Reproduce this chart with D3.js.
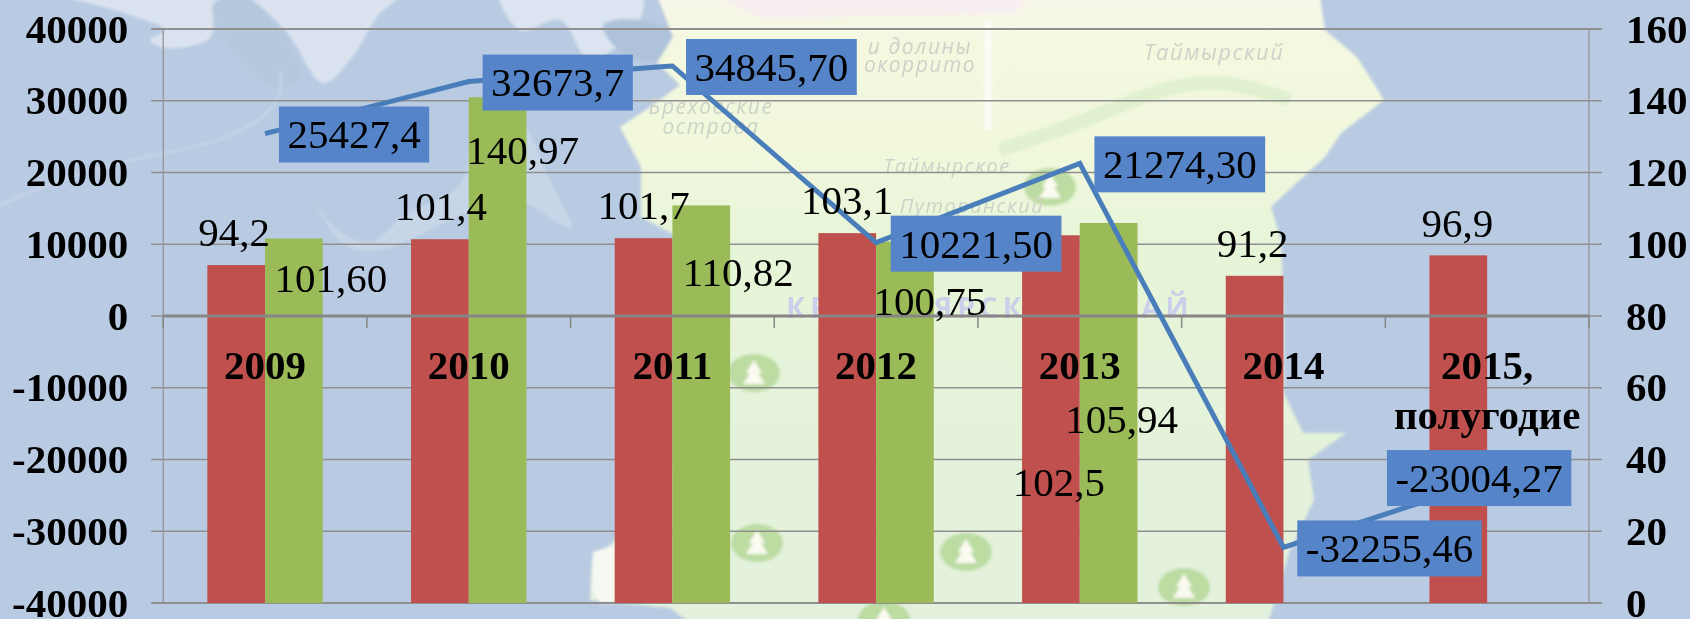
<!DOCTYPE html>
<html>
<head>
<meta charset="utf-8">
<script src="https://cdn.jsdelivr.net/npm/d3@7/dist/d3.min.js"></script>
<style>
html,body{margin:0;padding:0;background:#b9cbe2;overflow:hidden}
svg{display:block}
text{font-family:"Liberation Serif",serif;fill:#000}
</style>
</head>
<body>
<svg id="c" width="1690" height="619"></svg>
<script>
// ---- data ----
const categories = ["2009","2010","2011","2012","2013","2014","2015,\nполугодие"];
const seriesNames = ["red","green"];
const redValues   = [94.2,101.4,101.7,103.1,102.5,91.2,96.9];
const redLabels   = ["94,2","101,4","101,7","103,1","102,5","91,2","96,9"];
const greenValues = [101.60,140.97,110.82,100.75,105.94,null,null];
const greenLabels = ["101,60","140,97","110,82","100,75","105,94",null,null];
const lineValues  = [25427.4,32673.7,34845.70,10221.50,21274.30,-32255.46,-23004.27];
const lineLabels  = ["25427,4","32673,7","34845,70","10221,50","21274,30","-32255,46","-23004,27"];
const leftTicks   = [40000,30000,20000,10000,0,-10000,-20000,-30000,-40000];
const rightTicks  = [160,140,120,100,80,60,40,20,0];

// manual label placement, as in the source chart (px from the mark)
const redLabelOffset   = [[-2,-33],[1,-33],[0,-33],[0,-33],[8,247],[-2,-33],[-1,-32]];
const greenLabelOffset = [[37,40],[25,53],[37,67],[25,60],[13,196]];
const lineLabelOffset  = [[89,1],[89,1],[99,1],[100,1],[100,1],[106,1],[-8,-3]];

// ---- layout ----
const L=163.2,R=1589,T=29,B=603;
const FS=41;
const svg=d3.select("#c");
const x0=d3.scaleBand().domain(categories).range([L,R]);
const x1=d3.scaleBand().domain(seriesNames).range([0,x0.bandwidth()]).paddingInner(0).paddingOuter(0.765);
const yL=d3.scaleLinear().domain([-40000,40000]).range([B,T]);
const yR=d3.scaleLinear().domain([0,160]).range([B,T]);
const cx=c=>x0(c)+x0.bandwidth()/2;

// ---- background map (decorative) ----
const defs=svg.append("defs");
defs.append("filter").attr("id","soft").attr("x","-5%").attr("y","-5%").attr("width","110%").attr("height","110%")
  .append("feGaussianBlur").attr("stdDeviation",1.6);
const lg=defs.append("linearGradient").attr("id","land").attr("x1",0).attr("y1",0).attr("x2",0).attr("y2",1);
[[0,"#f7f7ea"],[.1,"#f3f8de"],[.26,"#f1f8dc"],[.4,"#e6f4d8"],[1,"#e3f1dc"]].forEach(s=>lg.append("stop").attr("offset",s[0]).attr("stop-color",s[1]));
svg.append("rect").attr("width",1690).attr("height",619).attr("fill","#b9cbe2");
const bg=svg.append("g").attr("filter","url(#soft)");
const poly=(pts,fill,op)=>bg.append("path").attr("d",d3.line().curve(d3.curveCatmullRomClosed.alpha(.5))(pts)).attr("fill",fill).attr("opacity",op||1);
// shelf ice and darker water
poly([[50,-10],[130,15],[165,30],[150,40],[165,48],[210,38],[215,5],[235,-8],[285,30],[323,83],[350,60],[377,17],[400,-8]],"#dae3ef");
poly([[213,5],[240,-5],[285,35],[300,80],[270,85],[225,40]],"#b5c8dc");
poly([[500,-10],[520,30],[560,20],[590,60],[640,20],[640,-10]],"#dbe4f0");
poly([[603,25],[640,20],[683,40],[665,60],[625,55]],"#aec2da");
poly([[310,195],[335,228],[370,242],[405,215],[460,185],[475,125],[490,105],[520,120],[552,185],[572,228],[530,205],[505,190],[480,205],[440,225],[380,250],[345,245]],"#c7d6e7");
// land
const land=[[655,-10],[673,37],[657,63],[680,85],[646,110],[620,127],[641,167],[641,217],[690,243],[725,287],[725,340],[700,420],[650,500],[610,545],[592,560],[590,600],[670,608],[700,630],[1266,630],[1290,550],[1314,500],[1308,460],[1346,433],[1303,433],[1284,393],[1284,313],[1281,240],[1271,207],[1292,187],[1325,157],[1341,133],[1384,100],[1357,57],[1325,30],[1319,-10]];
bg.append("path").attr("d",d3.line()(land)+"Z").attr("fill","url(#land)");
bg.append("path").attr("d",d3.line()([[713,-5],[1030,-5],[1015,14],[760,18]])+"Z").attr("fill","#f7eef0");
bg.append("path").attr("d",d3.line()([[984,20],[992,20],[992,130],[984,130]])+"Z").attr("fill","#fbfcf4");
bg.append("path").attr("d",d3.line().curve(d3.curveBasis)([[1000,150],[1060,130],[1110,110],[1170,85],[1230,80],[1290,100]])).attr("fill","none").attr("stroke","#e0f0d0").attr("stroke-width",14);
bg.append("path").attr("d",d3.line()([[593,552],[614,545],[614,603],[600,603],[592,590]])+"Z").attr("fill","#f6f8f2");
// rivers
bg.append("path").attr("d",d3.line().curve(d3.curveBasis)([[0,205],[70,175],[150,155],[235,140],[285,100],[280,70]])).attr("fill","none").attr("stroke","#cbd8e9").attr("stroke-width",2);
// trees
[[754,373],[757,543],[966,552],[1184,587],[884,620],[1050,187]].forEach(p=>{
  const g=bg.append("g").attr("transform",`translate(${p[0]},${p[1]})`);
  g.append("ellipse").attr("rx",26).attr("ry",19).attr("fill","#bcdca2");
  g.append("path").attr("d","M0,-13L8,0L4,0L11,11L-11,11L-4,0L-8,0Z").attr("fill","#fbfbf2");
});
// map names
const mapText=[["Бреховские",711,114,21],["острова",711,134,21],["и долины",920,54,21],["окоррито",920,72,21],["Таймырский",1214,60,22],["Таймырское",947,173,20],["Путоранский",972,213,20]];
const mapG=svg.append("g");
mapText.forEach(m=>mapG.append("text").attr("x",m[1]).attr("y",m[2]).attr("text-anchor","middle").attr("font-size",m[3]).attr("letter-spacing",1.5)
  .style("font-family","'Open Sans'").style("font-style","italic").style("fill","#cdd3c8").text(m[0]));
mapG.append("text").attr("x",990).attr("y",318).attr("text-anchor","middle").attr("font-size",28).attr("font-weight","bold").attr("letter-spacing",5)
  .style("font-family","'Open Sans'").style("fill","#cbd0ea").text("КРАСНОЯРСКИЙ КРАЙ");

// ---- grid ----
const grey="#8f8f8f";
svg.append("g").selectAll("line").data(leftTicks).join("line")
  .attr("x1",L-12).attr("x2",R+13).attr("y1",d=>yL(d)).attr("y2",d=>yL(d))
  .attr("stroke",grey).attr("stroke-width",d=>(d===40000||d===-40000)?2:1.5);
svg.append("g").selectAll("line").data([L,R]).join("line")
  .attr("x1",d=>d).attr("x2",d=>d).attr("y1",T).attr("y2",B).attr("stroke",grey).attr("stroke-width",1.2);

// ---- bars ----
const bars=svg.append("g");
bars.selectAll("rect.r").data(redValues).join("rect").attr("class","r")
  .attr("x",(d,i)=>x0(categories[i])+x1("red")).attr("width",x1.bandwidth())
  .attr("y",d=>yR(d)).attr("height",d=>yR(0)-yR(d)).attr("fill","#c0504d");
bars.selectAll("rect.g").data(greenValues).join("rect").attr("class","g")
  .filter(d=>d!==null)
  .attr("x",(d,i)=>x0(categories[i])+x1("green")).attr("width",x1.bandwidth())
  .attr("y",d=>yR(d)).attr("height",d=>yR(0)-yR(d)).attr("fill","#9bbb59");

// ---- axes ----
const left=svg.append("g").attr("transform",`translate(${L},0)`)
  .call(d3.axisLeft(yL).tickValues(leftTicks).tickFormat(d=>String(d)).tickSize(0).tickPadding(35));
const right=svg.append("g").attr("transform",`translate(${R},0)`)
  .call(d3.axisRight(yR).tickValues(rightTicks).tickFormat(d=>String(d)).tickSize(0).tickPadding(37));
[left,right].forEach(a=>{a.select(".domain").remove();
  a.selectAll("text").style("font-family","'Liberation Serif'").style("font-size",FS+"px").style("font-weight","bold").style("fill","#000");});
// zero line with ticks
const zero=svg.append("g").attr("transform",`translate(0,${yL(0)})`);
zero.append("line").attr("x1",L).attr("x2",R).attr("stroke","#868686").attr("stroke-width",3);
zero.selectAll("line.t").data(d3.range(categories.length+1)).join("line").attr("class","t")
  .attr("x1",i=>L+i*x0.step()).attr("x2",i=>L+i*x0.step()).attr("y1",0).attr("y2",12)
  .attr("stroke","#868686").attr("stroke-width",1.5);

// ---- line ----
const linePts=lineValues.map((v,i)=>[cx(categories[i]),yL(v)]);
svg.append("path").attr("d",d3.line()(linePts)).attr("fill","none").attr("stroke","#4a7ebb").attr("stroke-width",5).attr("stroke-linejoin","miter");

// ---- category labels ----
categories.forEach(c=>{
  const parts=c.split("\n");
  svg.append("text").attr("x",cx(c)).attr("y",yL(0)+49).attr("dy",".338em").attr("text-anchor","middle")
    .attr("font-size",FS).attr("font-weight","bold").text(parts[0]);
  if(parts[1]) svg.append("text").attr("x",cx(c)).attr("y",yL(0)+99).attr("dy",".338em").attr("text-anchor","middle")
    .attr("font-size",FS).attr("font-weight","bold").text(parts[1]);
});

// ---- value labels ----
const valueText=(xx,yy,s)=>svg.append("text").attr("x",xx).attr("y",yy).attr("dy",".338em").attr("text-anchor","middle").attr("font-size",FS).text(s);
redValues.forEach((v,i)=>valueText(
  x0(categories[i])+x1("red")+x1.bandwidth()/2+redLabelOffset[i][0], yR(v)+redLabelOffset[i][1], redLabels[i]));
greenValues.forEach((v,i)=>{ if(v===null) return; valueText(
  x0(categories[i])+x1("green")+x1.bandwidth()/2+greenLabelOffset[i][0], yR(v)+greenLabelOffset[i][1], greenLabels[i]);});

// ---- boxed line labels ----
lineLabels.forEach((s,i)=>{
  const px=linePts[i][0]+lineLabelOffset[i][0], py=linePts[i][1]+lineLabelOffset[i][1];
  const rect=svg.append("rect").attr("fill","#5585c8");
  const t=valueText(px,py,s);
  const w=t.node().getComputedTextLength()+17;
  rect.attr("x",px-w/2).attr("y",py-28).attr("width",w).attr("height",56);
});
</script>
</body>
</html>
